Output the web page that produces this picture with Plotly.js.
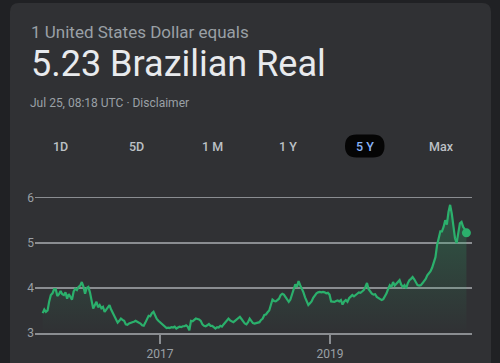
<!DOCTYPE html>
<html>
<head>
<meta charset="utf-8">
<script src="https://cdn.plot.ly/plotly-3.0.1.min.js"></script>
<style>
  html, body { margin: 0; padding: 0; background: #202124; }
  #chart { width: 500px; height: 363px; }
</style>
</head>
<body>
<div id="chart"></div>
<script>
// ---- Data ----
const headerLabel = '1 United States Dollar equals';
const headlineText = '5.23 Brazilian Real';
const timestampText = 'Jul 25, 08:18 UTC · Disclaimer';
const rangeButtons = ['1D', '5D', '1 M', '1 Y', '5 Y', 'Max'];
const activeButton = '5 Y';

const yTickVals = [3, 4, 5, 6];
const yTickText = ['3', '4', '5', '6'];
const xTickVals = ['2017-01-01', '2019-01-01'];
const xTickText = ['2017', '2019'];

// weekly observations, first week
const firstWeek = '2015-08-16';
const weekDays = 7;
// USD -> BRL weekly rate
const rateValues = [
  3.44, 3.52, 3.47, 3.50, 3.70, 3.84, 3.88, 3.97, 3.97, 3.82,
  3.86, 3.93, 3.86, 3.84, 3.90, 3.76, 3.86, 3.78, 3.74, 3.92,
  3.98, 3.95, 4.02, 4.05, 4.13, 4.03, 3.87, 4.00, 4.02, 3.90,
  3.72, 3.54, 3.62, 3.69, 3.57, 3.62, 3.55, 3.58, 3.47, 3.52,
  3.57, 3.62, 3.52, 3.44, 3.39, 3.31, 3.23, 3.27, 3.32, 3.29,
  3.27, 3.19, 3.18, 3.21, 3.23, 3.24, 3.25, 3.27, 3.25, 3.23,
  3.21, 3.17, 3.16, 3.23, 3.32, 3.38, 3.37, 3.44, 3.47, 3.37,
  3.31, 3.27, 3.24, 3.21, 3.18, 3.14, 3.11, 3.12, 3.11, 3.13,
  3.12, 3.14, 3.10, 3.12, 3.14, 3.13, 3.15, 3.15, 3.17, 3.14,
  3.06, 3.27, 3.26, 3.29, 3.32, 3.31, 3.30, 3.27, 3.19, 3.16,
  3.15, 3.17, 3.20, 3.16, 3.16, 3.13, 3.10, 3.13, 3.12, 3.16,
  3.14, 3.19, 3.23, 3.29, 3.32, 3.28, 3.26, 3.24, 3.27, 3.30,
  3.32, 3.36, 3.31, 3.26, 3.21, 3.19, 3.24, 3.32, 3.26, 3.22,
  3.21, 3.22, 3.23, 3.24, 3.29, 3.32, 3.40, 3.41, 3.46, 3.50,
  3.62, 3.74, 3.71, 3.70, 3.73, 3.76, 3.84, 3.87, 3.85, 3.80,
  3.74, 3.69, 3.74, 3.86, 3.97, 4.08, 4.02, 4.15, 4.06, 3.99,
  3.90, 3.79, 3.70, 3.62, 3.66, 3.70, 3.78, 3.83, 3.88, 3.90,
  3.91, 3.90, 3.91, 3.90, 3.88, 3.89, 3.85, 3.70, 3.70, 3.69,
  3.71, 3.72, 3.70, 3.73, 3.63, 3.70, 3.73, 3.69, 3.77, 3.80,
  3.84, 3.81, 3.85, 3.87, 3.90, 3.89, 3.92, 3.95, 4.02, 4.11,
  3.97, 3.91, 3.87, 3.85, 3.86, 3.80, 3.78, 3.75, 3.73, 3.75,
  3.81, 3.88, 3.98, 4.06, 4.02, 4.13, 4.05, 4.09, 4.12, 4.17,
  4.07, 4.02, 4.06, 3.99, 4.10, 4.17, 4.20, 4.24, 4.19, 4.11,
  4.06, 4.05, 4.06, 4.10, 4.15, 4.20, 4.28, 4.33, 4.37, 4.45,
  4.55, 4.68, 4.95, 5.08, 5.25, 5.25, 5.35, 5.50, 5.40, 5.68,
  5.84, 5.65, 5.40, 5.10, 4.99, 5.22, 5.43, 5.46, 5.35, 5.30,
  5.22
];

// ---- Build weekly date axis values ----
const rateDates = rateValues.map((_, i) => {
  const d = new Date(firstWeek + 'T00:00:00Z');
  d.setUTCDate(d.getUTCDate() + i * weekDays);
  return d.toISOString().slice(0, 10);
});

// ---- Styling / geometry ----
const W = 500, H = 363;
const M = { l: 35, r: 28, t: 194, b: 30 };
const PW = W - M.l - M.r, PH = H - M.t - M.b;
const px = x => (x - M.l) / PW;          // pixel -> paper x
const py = y => (H - M.b - y) / PH;      // pixel -> paper y

const GREEN = '#2bb06c';
const GRID = '#8a8d91';
const MUTED = '#9aa0a6';

// card with rounded top corners
function cardPath(x0, y0, x1, y1, r) {
  return 'M ' + px(x0) + ',' + py(y1) +
    ' L ' + px(x0) + ',' + py(y0 + r) +
    ' Q ' + px(x0) + ',' + py(y0) + ' ' + px(x0 + r) + ',' + py(y0) +
    ' L ' + px(x1 - r) + ',' + py(y0) +
    ' Q ' + px(x1) + ',' + py(y0) + ' ' + px(x1) + ',' + py(y0 + r) +
    ' L ' + px(x1) + ',' + py(y1) + ' Z';
}
function pillPath(x0, y0, x1, y1) {
  const r = (y1 - y0) / 2;
  return 'M ' + px(x0 + r) + ',' + py(y0) +
    ' L ' + px(x1 - r) + ',' + py(y0) +
    ' Q ' + px(x1) + ',' + py(y0) + ' ' + px(x1) + ',' + py(y0 + r) +
    ' Q ' + px(x1) + ',' + py(y1) + ' ' + px(x1 - r) + ',' + py(y1) +
    ' L ' + px(x0 + r) + ',' + py(y1) +
    ' Q ' + px(x0) + ',' + py(y1) + ' ' + px(x0) + ',' + py(y0 + r) +
    ' Q ' + px(x0) + ',' + py(y0) + ' ' + px(x0 + r) + ',' + py(y0) + ' Z';
}

const buttonCenters = [60, 136, 212, 288, 364.5, 441];

const annotations = [
  { text: headerLabel, x: px(28.5), y: py(31.5), font: { size: 17, color: MUTED } },
  { text: headlineText, x: px(29), y: py(64), font: { size: 36, color: '#e8eaed' } },
  { text: timestampText, x: px(28), y: py(103), font: { size: 12, color: MUTED } }
].map(a => Object.assign({ xref: 'paper', yref: 'paper', xanchor: 'left', yanchor: 'middle', showarrow: false }, a));

rangeButtons.forEach((b, i) => {
  annotations.push({
    xref: 'paper', yref: 'paper', showarrow: false,
    x: px(buttonCenters[i]), y: py(146), xanchor: 'center', yanchor: 'middle',
    text: b,
    font: { size: 12.5, color: b === activeButton ? '#8ab4f8' : '#bdc1c6', weight: 500 }
  });
});

const shapes = [
  { type: 'path', xref: 'paper', yref: 'paper', layer: 'below',
    path: cardPath(10, 3, 491, 370, 9), fillcolor: '#303134', line: { width: 0 } },
  { type: 'path', xref: 'paper', yref: 'paper', layer: 'below',
    path: pillPath(345, 134.5, 384.5, 157.5), fillcolor: '#050505', line: { width: 0 } }
];

const traces = [
  {
    type: 'scatter', mode: 'lines',
    x: rateDates, y: rateValues,
    line: { color: GREEN, width: 2.2 },
    fill: 'tozeroy',
    fillgradient: {
      type: 'vertical', start: 3, stop: 6,
      colorscale: [[0, 'rgba(43,176,108,0)'], [1, 'rgba(43,176,108,0.32)']]
    },
    hoverinfo: 'skip'
  },
  {
    type: 'scatter', mode: 'markers',
    x: [rateDates[rateDates.length - 1]], y: [rateValues[rateValues.length - 1]],
    marker: { color: GREEN, size: 9 },
    cliponaxis: false, hoverinfo: 'skip'
  }
];

const layout = {
  width: W, height: H,
  margin: M,
  paper_bgcolor: '#202124',
  plot_bgcolor: 'rgba(0,0,0,0)',
  font: { family: 'Roboto, Arial, sans-serif', color: MUTED },
  showlegend: false,
  hovermode: false,
  xaxis: {
    type: 'date',
    range: ['2015-07-14', '2020-09-02'],
    tickmode: 'array', tickvals: xTickVals, ticktext: xTickText,
    ticks: 'outside', ticklen: 9, tickwidth: 1.5, tickcolor: GRID,
    tickfont: { size: 12, color: MUTED },
    showgrid: false, zeroline: false,
    showline: true, linecolor: GRID, linewidth: 1.6,
    fixedrange: true
  },
  yaxis: {
    range: [3, 6.08],
    tickmode: 'array', tickvals: yTickVals, ticktext: yTickText,
    ticks: '', tickfont: { size: 12, color: MUTED },
    showgrid: true, gridcolor: GRID, gridwidth: 1.6,
    zeroline: false, showline: false,
    fixedrange: true
  },
  shapes: shapes,
  annotations: annotations
};

Plotly.newPlot('chart', traces, layout, { displayModeBar: false, staticPlot: true });
</script>
</body>
</html>
